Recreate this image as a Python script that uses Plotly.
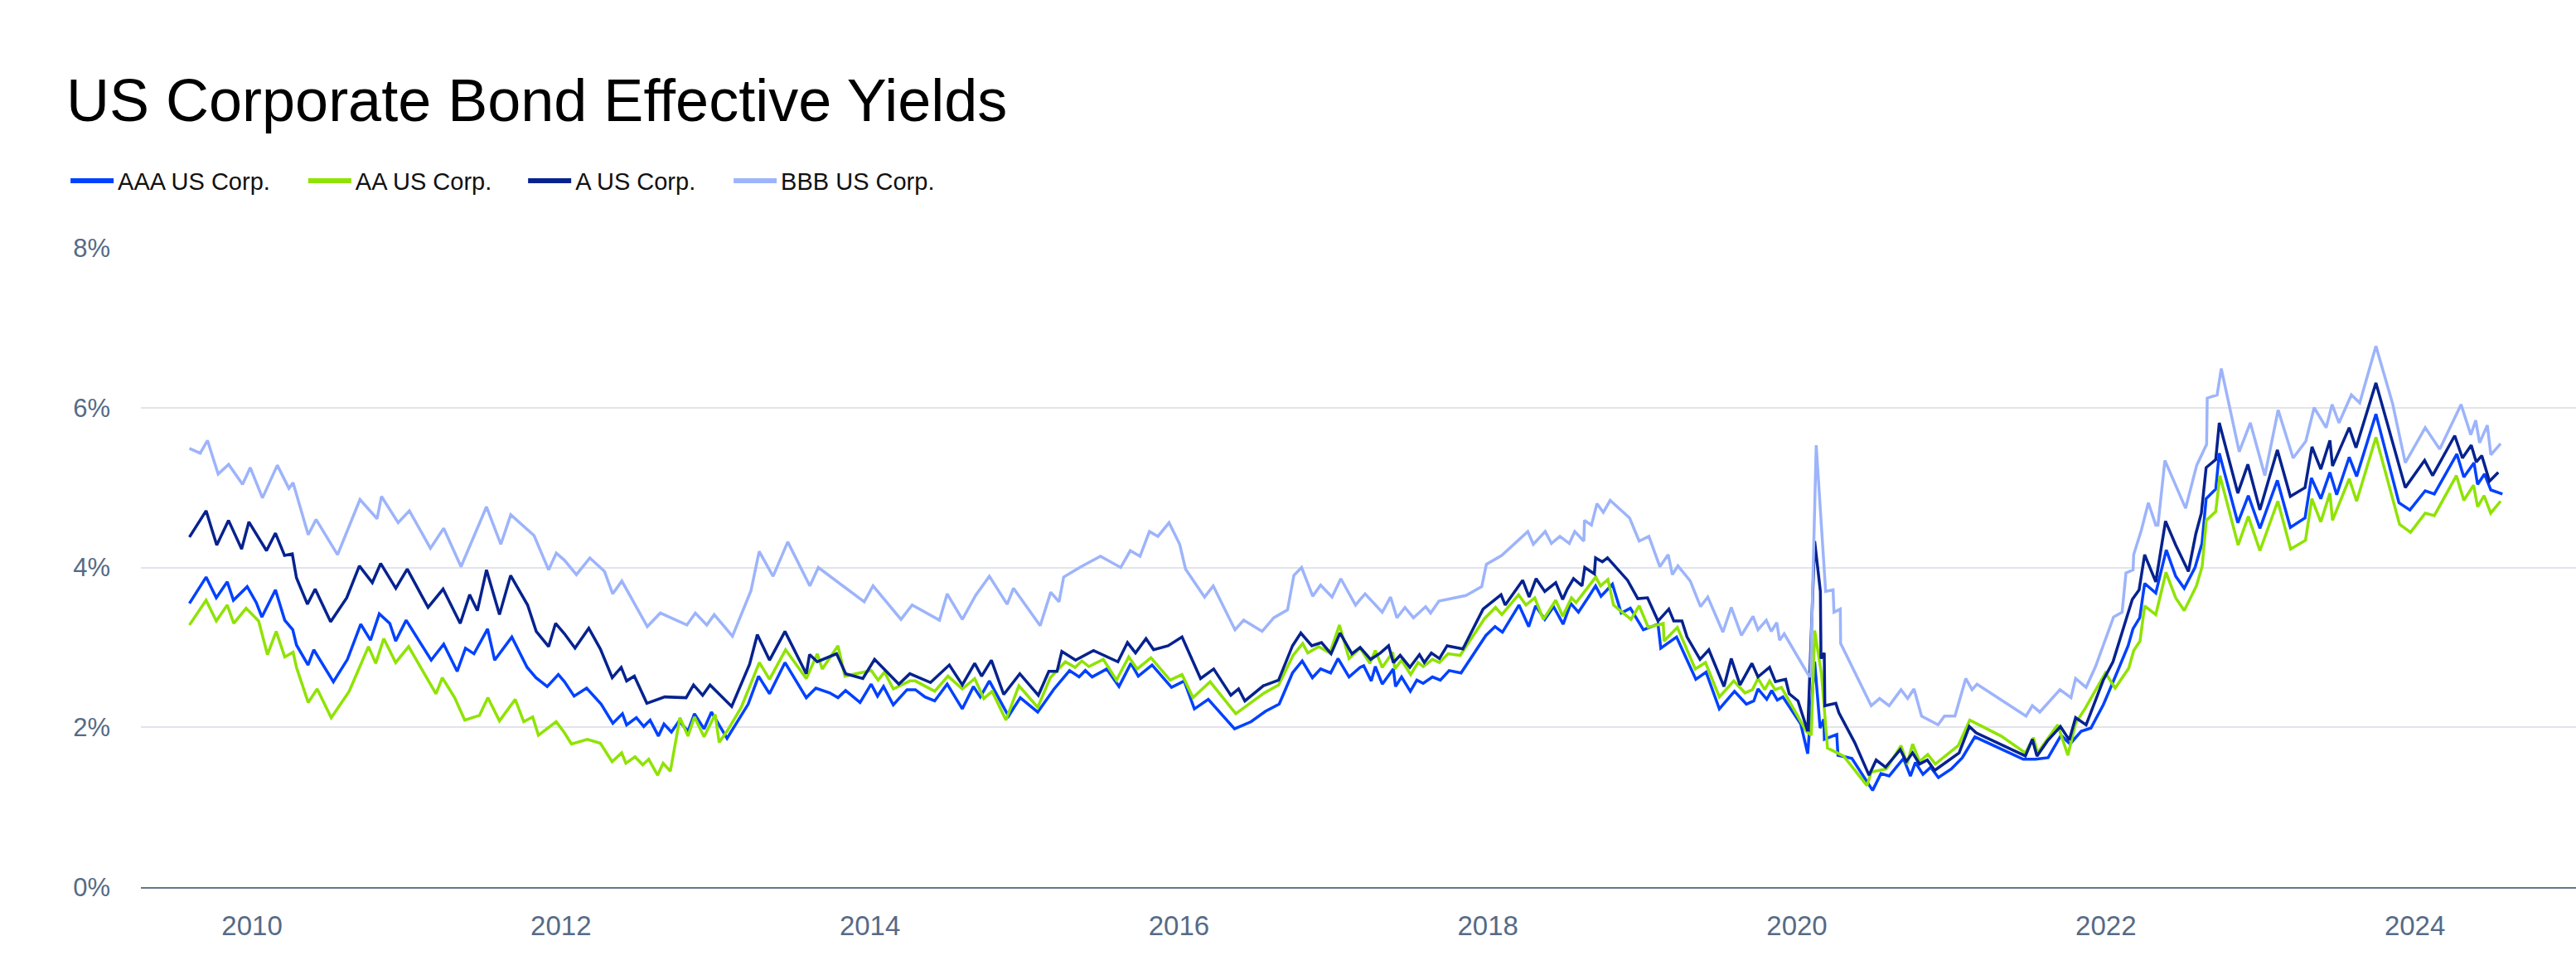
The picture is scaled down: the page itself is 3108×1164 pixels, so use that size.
import plotly.graph_objects as go

# ---- data (decimal year, effective yield in %) ----
aaa_t = [2009.595,2009.703,2009.769,2009.840,2009.880,2009.969,2010.028,2010.064,2010.152,2010.212,2010.264,2010.288,2010.363,2010.400,2010.527,2010.618,2010.704,2010.767,2010.824,2010.892,2010.930,2010.998,2011.160,2011.241,2011.328,2011.382,2011.437,2011.525,2011.571,2011.682,2011.781,2011.838,2011.911,2011.983,
         2012.023,2012.085,2012.166,2012.260,2012.336,2012.398,2012.425,2012.488,2012.536,2012.577,2012.631,2012.667,2012.715,2012.765,2012.822,2012.864,2012.926,2012.974,2013.075,2013.212,2013.279,2013.350,2013.450,2013.588,2013.650,2013.740,2013.793,2013.842,2013.936,2014.008,2014.049,2014.088,2014.151,2014.240,2014.294,2014.356,2014.419,2014.500,
         2014.598,2014.670,2014.714,2014.773,2014.897,2014.973,2015.086,2015.188,2015.292,2015.354,2015.394,2015.438,2015.533,2015.612,2015.689,2015.737,2015.826,2015.952,2016.034,2016.100,2016.190,2016.360,2016.467,2016.560,2016.649,2016.735,2016.798,2016.864,2016.917,2016.982,2017.030,2017.101,
         2017.173,2017.196,2017.245,2017.271,2017.316,2017.388,2017.402,2017.441,2017.498,2017.540,2017.581,2017.641,2017.692,2017.749,2017.826,2017.987,2018.046,2018.094,2018.201,2018.264,2018.309,2018.368,2018.425,2018.487,2018.536,2018.586,2018.654,2018.697,2018.732,2018.806,2018.863,2018.922,2019.006,2019.101,2019.119,2019.221,2019.346,2019.412,2019.498,2019.596,2019.673,2019.721,
         2019.748,2019.805,2019.837,2019.873,2019.909,2019.959,2020.025,2020.070,2020.115,2020.150,2020.174,2020.178,2020.258,2020.266,2020.356,2020.490,2020.544,2020.597,2020.690,2020.735,2020.767,2020.816,2020.866,2020.916,2021.000,2021.071,2021.152,2021.465,2021.545,2021.626,2021.710,2021.768,2021.840,2021.903,2021.983,2022.073,2022.144,2022.175,2022.219,2022.251,
         2022.323,2022.391,2022.452,2022.507,2022.577,2022.622,2022.649,2022.711,2022.734,2022.854,2022.922,2022.997,2023.110,2023.194,2023.289,2023.330,2023.391,2023.450,2023.494,2023.575,2023.623,2023.748,2023.897,2023.968,2024.067,2024.126,2024.272,2024.317,2024.383,2024.406,2024.451,2024.492,2024.567]
aaa_v = [3.55,3.88,3.62,3.82,3.59,3.76,3.56,3.38,3.72,3.34,3.22,3.03,2.78,2.97,2.57,2.85,3.29,3.09,3.42,3.30,3.08,3.34,2.84,3.04,2.70,2.99,2.92,3.23,2.84,3.13,2.75,2.62,2.51,2.66,
         2.57,2.39,2.49,2.29,2.05,2.17,2.03,2.12,2.01,2.09,1.89,2.04,1.94,2.08,1.95,2.17,1.98,2.19,1.86,2.29,2.64,2.42,2.81,2.37,2.49,2.43,2.37,2.46,2.31,2.54,2.39,2.51,2.28,2.47,2.47,2.38,2.33,2.54,
         2.23,2.51,2.38,2.58,2.14,2.37,2.19,2.47,2.71,2.63,2.71,2.63,2.73,2.51,2.80,2.64,2.78,2.50,2.58,2.23,2.35,1.98,2.07,2.20,2.29,2.68,2.83,2.62,2.73,2.68,2.86,2.63,
         2.75,2.77,2.58,2.76,2.54,2.73,2.51,2.63,2.45,2.59,2.55,2.63,2.59,2.71,2.68,3.15,3.26,3.19,3.53,3.26,3.52,3.35,3.51,3.29,3.55,3.44,3.64,3.77,3.64,3.79,3.43,3.49,3.22,3.29,2.99,3.13,2.60,2.69,2.23,2.45,2.29,2.33,
         2.48,2.35,2.46,2.34,2.38,2.23,2.04,1.67,2.82,1.99,2.10,1.85,1.91,1.65,1.61,1.21,1.42,1.39,1.61,1.39,1.56,1.41,1.50,1.37,1.48,1.62,1.88,1.60,1.60,1.62,1.90,1.79,1.95,1.99,2.28,2.69,3.02,3.23,3.37,3.80,
         3.68,4.22,3.89,3.74,4.00,4.30,4.86,4.98,5.43,4.56,4.90,4.49,5.09,4.50,4.62,5.12,4.86,5.19,4.91,5.38,5.14,5.92,4.81,4.72,4.96,4.92,5.42,5.13,5.31,5.04,5.17,4.97,4.92]

aa_t = [2009.595,2009.703,2009.769,2009.840,2009.882,2009.962,2010.043,2010.100,2010.157,2010.212,2010.266,2010.288,2010.364,2010.422,2010.513,2010.629,2010.754,2010.801,2010.853,2010.930,2011.014,2011.191,2011.232,2011.312,2011.377,2011.473,2011.527,2011.602,2011.704,2011.759,2011.817,2011.854,2011.969,
        2012.023,2012.068,2012.171,2012.255,2012.331,2012.393,2012.420,2012.479,2012.529,2012.568,2012.626,2012.661,2012.708,2012.770,2012.822,2012.864,2012.926,2012.998,2013.024,2013.078,2013.167,2013.284,2013.350,2013.454,2013.588,2013.659,2013.691,2013.793,2013.838,2014.008,2014.053,2014.094,2014.151,2014.258,2014.294,2014.419,2014.505,
        2014.598,2014.678,2014.737,2014.791,2014.880,2014.964,2015.086,2015.167,2015.265,2015.328,2015.372,2015.417,2015.510,2015.596,2015.675,2015.730,2015.819,2015.943,2016.020,2016.091,2016.202,2016.368,2016.467,2016.553,2016.645,2016.739,2016.801,2016.834,2016.905,2016.977,2017.039,2017.101,
        2017.173,2017.236,2017.271,2017.316,2017.384,2017.397,2017.441,2017.500,2017.548,2017.581,2017.641,2017.686,2017.742,2017.820,2017.978,2018.049,2018.090,2018.198,2018.246,2018.303,2018.359,2018.439,2018.484,2018.541,2018.571,2018.698,2018.729,2018.777,2018.813,2018.926,2018.979,2019.038,2019.135,2019.140,2019.226,2019.342,2019.408,2019.498,2019.591,2019.664,2019.712,
        2019.748,2019.792,2019.823,2019.859,2019.900,2020.061,2020.093,2020.115,2020.159,2020.198,2020.302,2020.454,2020.481,2020.579,2020.674,2020.713,2020.749,2020.794,2020.847,2020.896,2021.044,2021.119,2021.322,2021.479,2021.531,2021.558,2021.688,2021.754,2021.804,2021.867,2021.997,2022.060,2022.148,2022.180,2022.221,2022.251,
        2022.323,2022.389,2022.452,2022.507,2022.586,2022.623,2022.650,2022.711,2022.738,2022.856,2022.922,2022.997,2023.113,2023.196,2023.292,2023.333,2023.391,2023.450,2023.467,2023.575,2023.623,2023.748,2023.901,2023.972,2024.067,2024.126,2024.269,2024.317,2024.380,2024.406,2024.448,2024.491,2024.555]
aa_v = [3.28,3.59,3.33,3.53,3.30,3.49,3.33,2.91,3.20,2.88,2.94,2.75,2.31,2.48,2.12,2.45,3.01,2.80,3.11,2.81,3.01,2.42,2.62,2.37,2.09,2.15,2.37,2.08,2.35,2.07,2.13,1.90,2.07,
        1.93,1.79,1.85,1.80,1.57,1.68,1.55,1.63,1.53,1.60,1.40,1.55,1.45,2.12,1.89,2.13,1.88,2.16,1.81,1.96,2.25,2.81,2.60,2.97,2.61,2.92,2.73,3.02,2.64,2.71,2.59,2.69,2.48,2.58,2.58,2.45,2.64,
        2.48,2.61,2.36,2.45,2.09,2.52,2.25,2.62,2.82,2.75,2.83,2.76,2.85,2.59,2.88,2.73,2.87,2.59,2.66,2.37,2.57,2.17,2.31,2.43,2.53,2.90,3.05,2.93,3.01,2.93,3.28,2.86,
        2.99,2.80,2.96,2.75,2.94,2.73,2.84,2.66,2.81,2.76,2.85,2.81,2.92,2.90,3.36,3.50,3.41,3.66,3.53,3.62,3.35,3.59,3.39,3.62,3.56,3.88,3.77,3.85,3.53,3.35,3.52,3.25,3.30,3.08,3.25,2.73,2.81,2.38,2.58,2.43,2.47,
        2.61,2.47,2.58,2.47,2.50,1.95,1.90,3.21,2.67,1.74,1.64,1.27,1.44,1.48,1.77,1.54,1.79,1.57,1.66,1.54,1.77,2.09,1.89,1.68,1.87,1.68,2.03,1.65,2.05,2.24,2.68,2.49,2.74,2.96,3.08,3.52,
        3.41,3.94,3.62,3.46,3.77,4.01,4.59,4.70,5.15,4.28,4.64,4.21,4.83,4.23,4.34,4.86,4.57,4.93,4.59,5.11,4.83,5.63,4.54,4.44,4.68,4.65,5.15,4.84,5.03,4.76,4.90,4.68,4.83]

a_t = [2009.595,2009.703,2009.772,2009.848,2009.933,2009.980,2010.094,2010.152,2010.211,2010.261,2010.288,2010.359,2010.409,2010.509,2010.613,2010.695,2010.779,2010.833,2010.931,2011.005,2011.140,2011.237,2011.348,2011.409,2011.459,2011.518,2011.602,2011.674,2011.784,2011.840,2011.920,2011.965,
       2012.023,2012.091,2012.180,2012.255,2012.332,2012.390,2012.425,2012.475,2012.556,2012.672,2012.810,2012.858,2012.917,2012.965,2013.105,2013.221,2013.271,2013.350,2013.450,2013.588,2013.609,2013.659,2013.784,2013.843,2013.954,2014.030,2014.187,2014.258,2014.392,2014.514,
       2014.598,2014.678,2014.723,2014.786,2014.866,2014.970,2015.090,2015.158,2015.211,2015.242,2015.331,2015.447,2015.605,2015.667,2015.719,2015.787,2015.836,2015.930,2016.020,2016.140,2016.225,2016.336,2016.386,2016.427,2016.547,2016.645,2016.735,2016.789,2016.860,2016.923,2016.985,2017.043,2017.120,
       2017.173,2017.241,2017.304,2017.357,2017.388,2017.432,2017.495,2017.557,2017.588,2017.634,2017.686,2017.736,2017.838,2017.969,2018.085,2018.112,2018.225,2018.267,2018.312,2018.368,2018.439,2018.484,2018.514,2018.554,2018.609,2018.627,2018.689,2018.697,2018.741,2018.774,2018.904,2018.970,2019.033,2019.101,2019.171,2019.203,2019.256,2019.289,2019.373,2019.430,2019.528,2019.575,2019.632,2019.709,
       2019.748,2019.823,2019.861,2019.927,2019.950,2020.007,2020.070,2020.115,2020.152,2020.156,2020.177,2020.181,2020.252,2020.272,2020.374,2020.467,2020.513,2020.574,2020.669,2020.708,2020.749,2020.794,2020.844,2020.892,2020.982,2021.050,2021.116,2021.161,2021.479,2021.524,2021.554,2021.622,2021.706,2021.763,2021.804,2021.872,2021.983,2022.046,2022.171,2022.215,2022.251,
       2022.323,2022.386,2022.452,2022.534,2022.582,2022.618,2022.649,2022.711,2022.734,2022.854,2022.919,2022.997,2023.110,2023.194,2023.289,2023.334,2023.391,2023.450,2023.467,2023.575,2023.619,2023.748,2023.938,2024.063,2024.115,2024.258,2024.308,2024.365,2024.397,2024.433,2024.483,2024.540]
a_v = [4.38,4.71,4.28,4.59,4.23,4.57,4.21,4.43,4.15,4.17,3.87,3.54,3.73,3.32,3.62,4.02,3.81,4.05,3.74,3.98,3.50,3.73,3.30,3.66,3.46,3.97,3.41,3.90,3.53,3.20,3.01,3.30,
       3.17,2.99,3.24,2.98,2.62,2.75,2.58,2.64,2.30,2.38,2.37,2.53,2.40,2.53,2.26,2.79,3.16,2.84,3.20,2.67,2.91,2.82,2.92,2.67,2.61,2.85,2.54,2.67,2.56,2.78,
       2.53,2.80,2.64,2.84,2.41,2.67,2.40,2.70,2.70,2.95,2.84,2.96,2.82,3.06,2.93,3.11,2.97,3.02,3.13,2.61,2.73,2.40,2.48,2.33,2.52,2.59,3.02,3.18,3.02,3.06,2.92,3.18,2.92,
       3.00,2.85,2.93,3.02,2.81,2.90,2.75,2.91,2.81,2.93,2.86,3.02,2.98,3.48,3.66,3.53,3.84,3.63,3.86,3.70,3.81,3.60,3.73,3.86,3.77,4.00,3.92,4.12,4.07,4.12,3.84,3.61,3.62,3.33,3.48,3.33,3.33,3.13,2.85,2.97,2.51,2.86,2.53,2.80,
       2.63,2.75,2.57,2.60,2.42,2.33,1.95,4.33,3.70,2.86,2.93,2.27,2.30,2.18,1.81,1.40,1.59,1.50,1.72,1.57,1.68,1.54,1.59,1.46,1.58,1.68,2.01,1.93,1.64,1.85,1.64,1.83,2.01,1.84,2.12,2.03,2.59,2.82,3.60,3.72,4.16,
       3.82,4.58,4.28,3.95,4.42,4.68,5.25,5.35,5.81,4.93,5.29,4.72,5.47,4.89,5.00,5.51,5.23,5.59,5.27,5.75,5.50,6.31,5.00,5.34,5.15,5.65,5.37,5.53,5.32,5.40,5.08,5.19]

bbb_t = [2009.595,2009.665,2009.712,2009.781,2009.849,2009.939,2009.989,2010.068,2010.164,2010.239,2010.266,2010.364,2010.415,2010.554,2010.699,2010.810,2010.838,2010.946,2011.019,2011.155,2011.241,2011.353,2011.518,2011.611,2011.675,2011.826,2011.920,2011.970,
         2012.023,2012.100,2012.187,2012.282,2012.335,2012.394,2012.559,2012.643,2012.815,2012.870,2012.944,2012.992,2013.110,2013.230,2013.283,2013.373,2013.468,2013.611,2013.666,2013.963,2014.020,2014.201,2014.273,2014.450,2014.500,
         2014.598,2014.684,2014.773,2014.888,2014.929,2015.102,2015.170,2015.224,2015.254,2015.367,2015.492,2015.623,2015.685,2015.748,2015.809,2015.864,2015.936,2016.005,2016.043,2016.166,2016.222,2016.363,2016.419,2016.538,2016.614,2016.703,2016.744,2016.794,2016.866,2016.917,2016.991,2017.048,2017.143,
         2017.173,2017.205,2017.316,2017.370,2017.411,2017.463,2017.518,2017.597,2017.629,2017.683,2017.858,2017.960,2017.990,2018.089,2018.258,2018.294,2018.371,2018.411,2018.466,2018.527,2018.562,2018.621,2018.625,2018.670,2018.706,2018.747,2018.791,2018.917,2018.979,2019.042,2019.113,2019.167,2019.194,2019.230,2019.310,2019.376,2019.423,2019.521,2019.575,2019.641,2019.716,
         2019.748,2019.802,2019.834,2019.870,2019.888,2019.918,2020.070,2020.088,2020.125,2020.186,2020.234,2020.240,2020.281,2020.283,2020.392,2020.481,2020.535,2020.597,2020.674,2020.717,2020.758,2020.807,2020.914,2020.955,2021.023,2021.093,2021.134,2021.166,2021.483,2021.524,2021.572,2021.703,2021.774,2021.804,2021.872,2021.933,2022.050,2022.105,2022.130,2022.176,2022.180,2022.230,2022.275,
         2022.323,2022.337,2022.382,2022.516,2022.588,2022.652,2022.656,2022.720,2022.747,2022.863,2022.935,2023.029,2023.115,2023.212,2023.294,2023.348,2023.426,2023.464,2023.509,2023.589,2023.643,2023.748,2023.856,2023.938,2024.067,2024.161,2024.299,2024.362,2024.394,2024.419,2024.469,2024.492,2024.555]
bbb_v = [5.49,5.43,5.59,5.17,5.29,5.04,5.25,4.87,5.28,4.99,5.06,4.41,4.60,4.16,4.85,4.61,4.89,4.56,4.71,4.24,4.49,4.01,4.76,4.29,4.66,4.40,3.97,4.18,
         4.09,3.91,4.12,3.95,3.67,3.83,3.26,3.43,3.28,3.43,3.28,3.41,3.14,3.71,4.20,3.89,4.32,3.77,4.00,3.57,3.77,3.35,3.53,3.34,3.67,
         3.35,3.65,3.89,3.54,3.74,3.27,3.69,3.57,3.88,4.01,4.14,4.00,4.21,4.14,4.45,4.39,4.56,4.29,3.98,3.63,3.77,3.22,3.34,3.20,3.37,3.47,3.90,4.00,3.64,3.78,3.63,3.86,3.53,
         3.60,3.67,3.44,3.63,3.37,3.50,3.37,3.51,3.43,3.58,3.65,3.76,4.04,4.15,4.45,4.29,4.45,4.30,4.39,4.30,4.45,4.33,4.59,4.53,4.80,4.69,4.84,4.62,4.33,4.39,4.01,4.16,3.91,4.02,3.83,3.51,3.63,3.19,3.50,3.15,3.39,
         3.22,3.34,3.20,3.31,3.09,3.17,2.67,2.63,5.53,3.70,3.72,3.44,3.48,3.05,2.63,2.27,2.36,2.27,2.47,2.36,2.48,2.14,2.03,2.14,2.14,2.61,2.47,2.54,2.14,2.27,2.19,2.47,2.37,2.61,2.50,2.76,3.38,3.44,3.93,3.97,4.16,4.47,4.81,
         4.53,4.53,5.34,4.74,5.28,5.54,6.12,6.16,6.49,5.45,5.81,5.15,5.97,5.37,5.58,6.00,5.75,6.04,5.81,6.16,6.06,6.77,6.05,5.31,5.75,5.48,6.04,5.66,5.84,5.56,5.78,5.41,5.55]

series_names = ["AAA US Corp.", "AA US Corp.", "A US Corp.", "BBB US Corp."]
series_colors = ["#0041ff", "#8fe300", "#06228f", "#9db4fb"]
x_ticks = [2010, 2012, 2014, 2016, 2018, 2020, 2022, 2024]
y_ticks = [0, 2, 4, 6, 8]

FONT = "Liberation Sans, Arial, sans-serif"
TICK_COLOR = "#566a85"

fig = go.Figure()
legend_ids = ["legend", "legend2", "legend3", "legend4"]
for name, color, t, v in zip(series_names, series_colors,
                             [aaa_t, aa_t, a_t, bbb_t], [aaa_v, aa_v, a_v, bbb_v]):
    fig.add_trace(go.Scatter(x=t, y=v, mode="lines", name=name, showlegend=False,
                             line=dict(color=color, width=3.5)))
# legend entries (thicker swatches, one legend box per entry for exact spacing)
for name, color, lid in zip(series_names, series_colors, legend_ids):
    fig.add_trace(go.Scatter(x=[None], y=[None], mode="lines", name=name,
                             line=dict(color=color, width=6), legend=lid,
                             hoverinfo="skip"))

legend_x = [-0.0306, 0.0670, 0.1573, 0.2417]
legend_common = dict(orientation="h", xanchor="left", y=1.105, yanchor="middle",
                     font=dict(size=29, color="#111", family=FONT), itemwidth=52,
                     bgcolor="rgba(0,0,0,0)")

fig.update_layout(
    width=3108, height=1164,
    margin=dict(l=170, r=0, t=299, b=94),
    paper_bgcolor="white", plot_bgcolor="white",
    font=dict(family=FONT, color="#000"),
    title=dict(text="US Corporate Bond Effective Yields", x=80/3108, xanchor="left",
               xref="container", y=1-121/1164, yref="container", yanchor="middle",
               font=dict(size=72, color="#000", family=FONT)),
    showlegend=True,
    legend=dict(x=legend_x[0], **legend_common),
    legend2=dict(x=legend_x[1], **legend_common),
    legend3=dict(x=legend_x[2], **legend_common),
    legend4=dict(x=legend_x[3], **legend_common),
)
fig.update_xaxes(range=[2009.281, 2025.043], tickvals=x_ticks,
                 ticktext=[str(t) for t in x_ticks],
                 showgrid=False, showline=True, linecolor="#64768c", linewidth=2,
                 zeroline=False, ticks="", ticklabelstandoff=16,
                 tickfont=dict(size=33, color=TICK_COLOR, family=FONT))
fig.update_yaxes(range=[0, 8], tickvals=y_ticks, ticktext=[f"{t}%" for t in y_ticks],
                 showgrid=True, gridcolor="#e1e4ea", gridwidth=1.5,
                 zeroline=False, showline=False, ticks="", ticklabelstandoff=36,
                 tickfont=dict(size=31, color=TICK_COLOR, family=FONT))

fig.write_html("out.html", config={"displayModeBar": False},
               post_script="document.body.style.margin='0';")
